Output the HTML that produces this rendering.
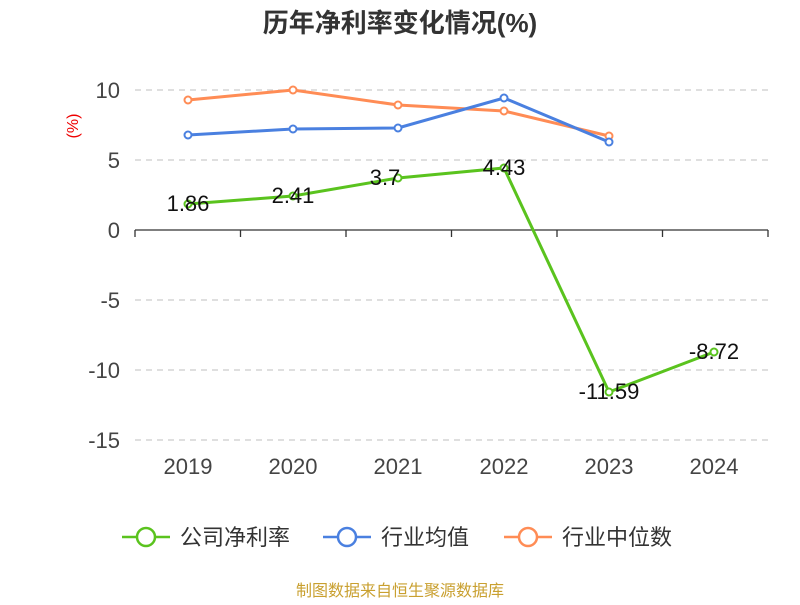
<!DOCTYPE html>
<html><head><meta charset="utf-8"><style>body{margin:0;background:#fff}</style></head><body>
<svg width="800" height="600" xmlns="http://www.w3.org/2000/svg" font-family="Liberation Sans, Noto Sans CJK SC, sans-serif">
<text x="400" y="32" text-anchor="middle" font-size="26" font-weight="bold" fill="#333">历年净利率变化情况(%)</text>
<text x="78" y="126" font-size="16" fill="#e00" transform="rotate(-90 78 126)" text-anchor="middle">(%)</text>
<g stroke="#ccc" stroke-dasharray="6,5" stroke-width="1.3">
<line x1="135" y1="90" x2="768" y2="90"/><line x1="135" y1="160" x2="768" y2="160"/>
<line x1="135" y1="300" x2="768" y2="300"/><line x1="135" y1="370" x2="768" y2="370"/><line x1="135" y1="440" x2="768" y2="440"/>
</g>
<g stroke="#333" stroke-width="1.3">
<line x1="135" y1="230" x2="768" y2="230"/>
<line x1="135" y1="230" x2="135" y2="237"/><line x1="240.5" y1="230" x2="240.5" y2="237"/><line x1="346" y1="230" x2="346" y2="237"/><line x1="451.5" y1="230" x2="451.5" y2="237"/><line x1="557" y1="230" x2="557" y2="237"/><line x1="662.5" y1="230" x2="662.5" y2="237"/><line x1="768" y1="230" x2="768" y2="237"/>
</g>
<g font-size="22" fill="#444" text-anchor="end">
<text x="120" y="98">10</text><text x="120" y="168">5</text><text x="120" y="238">0</text><text x="120" y="308">-5</text><text x="120" y="378">-10</text><text x="120" y="448">-15</text>
</g>
<g font-size="22" fill="#444" text-anchor="middle">
<text x="188" y="474">2019</text><text x="293" y="474">2020</text><text x="398" y="474">2021</text><text x="504" y="474">2022</text><text x="609" y="474">2023</text><text x="714" y="474">2024</text>
</g>
<polyline fill="none" stroke="#ff8c55" stroke-width="3" points="188,100 293,90 398,105 504,111 609,136"/>
<polyline fill="none" stroke="#4a80e0" stroke-width="3" points="188,135 293,129 398,128 504,98 609,142"/>
<polyline fill="none" stroke="#5ac31e" stroke-width="3" points="188,204 293,196 398,178 504,168 609,392 714,352"/>
<g fill="#fff" stroke-width="2">
<g stroke="#ff8c55"><circle cx="188" cy="100" r="3.5"/><circle cx="293" cy="90" r="3.5"/><circle cx="398" cy="105" r="3.5"/><circle cx="504" cy="111" r="3.5"/><circle cx="609" cy="136" r="3.5"/></g>
<g stroke="#4a80e0"><circle cx="188" cy="135" r="3.5"/><circle cx="293" cy="129" r="3.5"/><circle cx="398" cy="128" r="3.5"/><circle cx="504" cy="98" r="3.5"/><circle cx="609" cy="142" r="3.5"/></g>
<g stroke="#5ac31e"><circle cx="188" cy="204" r="3.5"/><circle cx="293" cy="196" r="3.5"/><circle cx="398" cy="178" r="3.5"/><circle cx="504" cy="168" r="3.5"/><circle cx="609" cy="392" r="3.5"/><circle cx="714" cy="352" r="3.5"/></g>
</g>
<g font-size="22" fill="#111" text-anchor="middle">
<text x="188" y="211">1.86</text><text x="293" y="203">2.41</text><text x="385" y="185">3.7</text><text x="504" y="175">4.43</text><text x="609" y="399">-11.59</text><text x="714" y="359">-8.72</text>
</g>
<g stroke-width="2.5" fill="#fff">
<line x1="122" y1="537" x2="170" y2="537" stroke="#5ac31e"/><circle cx="146" cy="537" r="9" stroke="#5ac31e"/>
<line x1="323" y1="537" x2="371" y2="537" stroke="#4a80e0"/><circle cx="347" cy="537" r="9" stroke="#4a80e0"/>
<line x1="504" y1="537" x2="552" y2="537" stroke="#ff8c55"/><circle cx="528" cy="537" r="9" stroke="#ff8c55"/>
</g>
<g font-size="22" fill="#333">
<text x="180" y="545">公司净利率</text><text x="381" y="545">行业均值</text><text x="562" y="545">行业中位数</text>
</g>
<text x="400" y="596" text-anchor="middle" font-size="16" fill="#c9a030">制图数据来自恒生聚源数据库</text>
</svg>
</body></html>
